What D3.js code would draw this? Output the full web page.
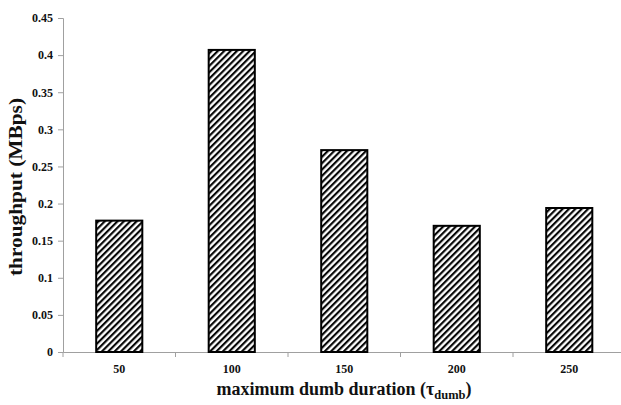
<!DOCTYPE html>
<html>
<head>
<meta charset="utf-8">
<script src="https://cdn.jsdelivr.net/npm/d3@7"></script>
<style>
  html, body { margin: 0; padding: 0; background: #fff; overflow: hidden; }
  svg { display: block; }
  text { font-family: "Liberation Serif", "Times New Roman", serif; font-weight: bold; fill: #111; }
</style>
</head>
<body>
<svg id="chart" width="621" height="405"></svg>
<script>
// Throughput per maximum dumb duration
const categories = ["50", "100", "150", "200", "250"];
const throughput = [0.177, 0.407, 0.272, 0.170, 0.194];
const yTicks = [0, 0.05, 0.1, 0.15, 0.2, 0.25, 0.3, 0.35, 0.4, 0.45];
const yTickLabels = ["0", "0.05", "0.1", "0.15", "0.2", "0.25", "0.3", "0.35", "0.4", "0.45"];

const svg = d3.select("#chart");
const plot = { left: 63, right: 625.5, top: 18, bottom: 352 };

const x = d3.scaleBand()
  .domain(categories)
  .range([plot.left, plot.right])
  .paddingInner(0.59)
  .paddingOuter(0.295);

const y = d3.scaleLinear()
  .domain([0, 0.45])
  .range([plot.bottom, plot.top]);

// Diagonal hatch fill
const defs = svg.append("defs");
const pat = defs.append("pattern")
  .attr("id", "hatch")
  .attr("patternUnits", "userSpaceOnUse")
  .attr("width", 4.5)
  .attr("height", 4.5)
  .attr("patternTransform", "rotate(45)");
pat.append("rect").attr("width", 4.5).attr("height", 4.5).attr("fill", "#fff");
pat.append("line")
  .attr("x1", 1.1).attr("y1", 0).attr("x2", 1.1).attr("y2", 4.5)
  .attr("stroke", "#000").attr("stroke-width", 2.1);

// Y axis
const yAxis = svg.append("g")
  .attr("transform", `translate(${plot.left},0)`)
  .call(d3.axisLeft(y).tickValues(yTicks).tickFormat((d, i) => yTickLabels[i]).tickSize(5).tickPadding(5));
yAxis.select(".domain").attr("stroke", "#a0a0a0");
yAxis.selectAll(".tick line").attr("stroke", "#a0a0a0");
yAxis.selectAll(".tick text").attr("font-size", 12).attr("fill", "#1c1c28");

// X axis
const xAxis = svg.append("g")
  .attr("transform", `translate(0,${plot.bottom})`)
  .call(d3.axisBottom(x).tickSize(0).tickPadding(12));
xAxis.select(".domain").attr("stroke", "#a0a0a0");
xAxis.selectAll(".tick text").attr("font-size", 12).attr("fill", "#1c1c28");
// Category separators
const step = x.step();
const seps = d3.range(categories.length + 1).map(i => plot.left + i * step);
xAxis.selectAll(".sep").data(seps).join("line")
  .attr("class", "sep")
  .attr("x1", d => d).attr("x2", d => d)
  .attr("y1", 0).attr("y2", 5)
  .attr("stroke", "#a0a0a0");

// Bars
svg.append("g").selectAll("rect")
  .data(categories.map((c, i) => ({ c, v: throughput[i] })))
  .join("rect")
  .attr("x", d => x(d.c))
  .attr("y", d => y(d.v))
  .attr("width", x.bandwidth())
  .attr("height", d => y(0) - y(d.v))
  .attr("fill", "url(#hatch)")
  .attr("stroke", "#000")
  .attr("stroke-width", 2);

// Axis titles
svg.append("text")
  .attr("transform", "translate(22,187) rotate(-90)")
  .attr("text-anchor", "middle")
  .attr("font-size", 19)
  .attr("textLength", 178)
  .attr("lengthAdjust", "spacingAndGlyphs")
  .text("throughput (MBps)");

const xt = svg.append("text")
  .attr("x", 344)
  .attr("y", 395)
  .attr("text-anchor", "middle")
  .attr("font-size", 18);
xt.append("tspan").text("maximum dumb duration (τ");
xt.append("tspan").attr("font-size", 12.5).attr("dy", 4).text("dumb");
xt.append("tspan").attr("dy", -4).text(")");
</script>
</body>
</html>
